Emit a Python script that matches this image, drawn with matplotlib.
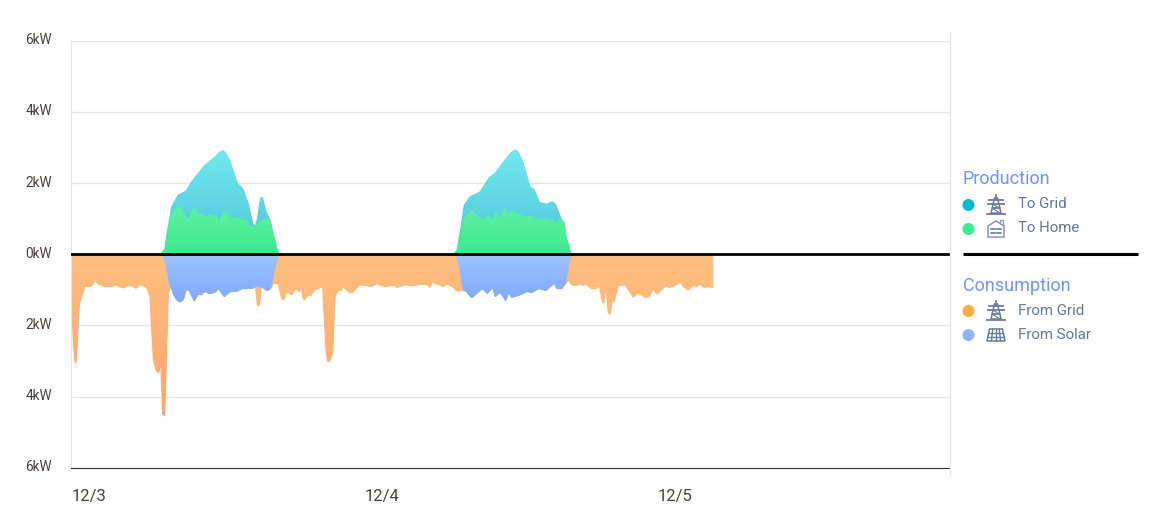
import numpy as np
import matplotlib
matplotlib.use('Agg')
import matplotlib.pyplot as plt
from matplotlib.collections import LineCollection
from matplotlib.colors import LinearSegmentedColormap
from matplotlib.patches import Circle, PathPatch, Polygon
from matplotlib.transforms import ScaledTranslation

plt.rcParams['font.family'] = ['Roboto', 'DejaVu Sans']

# --- data: hours since 12/3 00:00, kW ---
total_prod_h = [7.37, 7.7, 7.89, 8.25, 8.79, 9.42, 10.02, 10.98, 11.66, 12.21, 12.45, 12.68, 13.03, 13.63, 14.06,
                14.53, 14.88, 15.07, 15.26, 15.54, 15.67, 15.97, 16.3, 16.58, 16.85, 17.01,
                31.38, 31.65, 31.92, 32.22, 32.69, 33.51, 34.27, 34.74, 35.42, 36.1, 36.4, 36.65, 37.0, 37.6,
                37.93, 38.37, 38.97, 39.38, 39.65, 40.2, 40.55, 40.96]
total_prod_kw = [0, 0.13, 0.58, 1.33, 1.66, 1.77, 2.10, 2.50, 2.69, 2.87, 2.91, 2.84, 2.60, 1.99, 1.84,
                 1.42, 0.86, 0.75, 0.96, 1.59, 1.59, 1.19, 0.96, 0.53, 0.16, 0,
                 0, 0.11, 0.67, 1.38, 1.61, 1.75, 2.15, 2.27, 2.59, 2.87, 2.93, 2.86, 2.60, 1.89,
                 1.82, 1.45, 1.40, 1.47, 1.42, 0.96, 0.49, 0]

to_home_h = [7.37, 7.7, 7.89, 8.11, 8.52, 8.85, 9.15, 9.42, 9.69, 10.08, 10.43, 10.7, 11.11, 11.33, 11.93,
             12.12, 12.56, 13.03, 13.63, 14.06, 14.45, 14.61, 15.02, 15.21, 16.17, 16.58, 16.85, 17.01,
             31.38, 31.65, 31.92, 32.2, 32.55, 32.82, 33.23, 33.78, 34.11, 34.54, 34.79, 35.06, 35.55,
             35.83, 36.02, 36.65, 37.33, 37.66, 38.34, 38.83, 39.19, 39.46, 39.65, 39.84, 40.12, 40.39,
             40.55, 40.96]
to_home_kw = [0, 0.13, 0.58, 0.96, 1.26, 1.33, 1.24, 0.98, 1.0, 1.31, 1.12, 1.12, 1.03, 1.11, 1.05,
              0.93, 1.19, 1.03, 1.03, 0.96, 0.96, 0.75, 0.79, 0.86, 1.02, 0.53, 0.16, 0,
              0, 0.11, 0.67, 1.0, 1.10, 1.21, 1.07, 0.95, 1.08, 0.93, 1.19, 0.96, 1.28,
              1.03, 1.19, 1.12, 1.03, 1.07, 0.96, 1.0, 0.93, 0.98, 0.81, 0.93, 0.96, 0.91,
              0.49, 0]

total_cons_h = [0, 0.19, 0.33, 0.44, 0.55, 0.68, 0.87, 1.15, 1.42, 1.69, 2.02, 2.24, 2.79, 3.33, 3.74, 4.29,
                4.7, 5.05, 5.32, 5.65, 5.93, 6.25, 6.47, 6.75, 7.02, 7.21, 7.37, 7.51, 7.67, 7.84, 7.97,
                8.16, 8.38, 8.66, 8.93, 9.2, 9.42, 9.69, 10.1, 10.43, 10.7, 11.06, 11.33, 11.8, 12.07,
                12.56, 13.03, 13.57, 14.12, 14.45, 14.61, 14.86, 15.07, 15.26, 15.43, 15.59, 16.08, 16.36,
                16.58, 16.99, 17.26, 17.45, 17.67, 18.08, 18.43, 18.7, 18.81, 19.03, 19.17, 19.44, 19.66,
                19.99, 20.62, 20.89, 21.03, 21.16, 21.43, 21.63, 21.9, 22.12, 22.31, 22.72, 23.13, 23.62,
                24.36, 24.55, 25.04, 25.72, 26.4, 26.73, 27.36, 28.04, 28.59, 29.13, 29.41, 29.63, 29.82,
                30.23, 30.45, 30.77, 31.18, 31.59, 32.19, 32.41, 32.82, 33.23, 33.64, 33.83, 34.1, 34.54,
                34.76, 35.01, 35.2, 35.61, 35.85, 36.1, 36.78, 37.38, 37.74, 38.29, 38.91, 39.19, 39.6,
                39.79, 40.2, 40.56, 40.74, 41.02, 41.43, 41.7, 41.97, 42.16, 42.52, 43.06, 43.28, 43.56,
                43.67, 43.8, 44.02, 44.16, 44.38, 44.48, 44.84, 45.39, 46.07, 46.4, 47.02, 47.38, 47.65,
                48.03, 48.66, 49.07, 49.48, 49.95, 50.16, 50.57, 50.98, 51.26, 51.53, 51.8, 52.35, 52.6]
total_cons_kw = [1.1, 2.4, 3.04, 3.01, 2.22, 1.42, 1.19, 0.89, 0.91, 0.89, 0.74, 0.84, 0.91, 0.90, 0.87, 0.95,
                 0.87, 0.89, 0.96, 0.86, 0.88, 0.96, 1.19, 2.97, 3.30, 3.30, 3.06, 4.51, 4.51, 2.69, 1.10,
                 0.91, 1.10, 1.28, 1.34, 1.28, 1.0, 1.02, 1.31, 1.11, 1.11, 1.04, 1.11, 1.07, 0.96,
                 1.19, 1.05, 1.04, 0.95, 0.95, 0.79, 0.91, 0.70, 1.42, 1.42, 0.91, 1.02, 0.96,
                 0.81, 0.81, 1.26, 1.26, 1.05, 1.14, 0.96, 1.05, 0.86, 1.26, 1.26, 1.14, 1.14,
                 1.0, 0.91, 2.69, 3.01, 3.01, 2.78, 1.19, 1.0, 1.02, 0.91, 1.05, 1.05, 0.86,
                 0.88, 0.91, 0.83, 0.91, 0.87, 0.93, 0.86, 0.89, 0.84, 0.85, 0.93, 0.77, 0.83,
                 0.86, 0.91, 0.84, 0.89, 1.03, 1.02, 1.05, 1.22, 1.10, 0.98, 1.0, 1.10, 0.93,
                 1.19, 1.10, 1.08, 1.30, 1.07, 1.21, 1.14, 1.04, 1.08, 0.96, 1.02, 0.93, 0.81,
                 0.96, 0.96, 0.81, 0.72, 0.86, 0.88, 0.83, 0.88, 0.83, 0.94, 0.94, 0.86, 1.36,
                 1.36, 0.86, 1.66, 1.68, 1.19, 1.33, 0.88, 0.86, 1.21, 1.08, 1.21, 1.19, 0.98,
                 1.12, 0.89, 0.93, 0.88, 0.78, 0.91, 1.0, 0.86, 0.91, 0.84, 0.93, 0.91, 0.91]

from_solar_h = [7.56, 7.84, 8.06, 8.38, 8.66, 8.93, 9.2, 9.42, 9.69, 10.1, 10.43, 10.7, 11.06, 11.33, 11.8, 12.07,
                12.56, 13.03, 13.57, 14.12, 14.45, 14.86, 15.2, 15.59, 16.08, 16.36, 16.58, 16.99,
                31.59, 31.87, 32.14, 32.41, 32.82, 33.23, 33.64, 33.83, 34.1, 34.54, 34.76, 35.01, 35.2,
                35.61, 35.85, 36.1, 36.78, 37.38, 37.74, 38.29, 38.91, 39.19, 39.6, 39.79, 40.2, 40.56,
                40.74, 40.96]
from_solar_kw = [0, 0.35, 0.81, 1.10, 1.28, 1.34, 1.28, 1.0, 1.02, 1.31, 1.11, 1.11, 1.04, 1.11, 1.07, 0.96,
                 1.19, 1.05, 1.04, 0.95, 0.95, 0.96, 0.89, 0.91, 1.02, 0.96, 0.53, 0,
                 0, 0.44, 1.0, 1.05, 1.22, 1.10, 0.98, 1.0, 1.10, 0.93, 1.19, 1.10, 1.08,
                 1.30, 1.07, 1.21, 1.14, 1.04, 1.08, 0.96, 1.02, 0.93, 0.81, 0.96, 0.96, 0.77,
                 0.35, 0]

y_ticks = [-6, -4, -2, 0, 2, 4, 6]
y_labels = ['6kW', '4kW', '2kW', '0kW', '2kW', '4kW', '6kW']
x_ticks = [0, 24, 48]
x_labels = ['12/3', '12/4', '12/5']


def grad_fill(ax, x, y, c_near, c_far, zorder):
    # vertical gradient clipped to the area under the series
    poly = ax.fill_between(x, 0, y, facecolor=c_near, edgecolor='none', zorder=zorder)
    cmap = LinearSegmentedColormap.from_list('g', [c_near, c_far])
    far = max(y, key=abs)
    img = ax.imshow(np.linspace(0, 1, 100).reshape(-1, 1), cmap=cmap, aspect='auto', origin='lower',
                    extent=[0, 72, 0, far], zorder=zorder + 0.1)
    img.set_clip_path(PathPatch(poly.get_paths()[0], transform=ax.transData))
    # thin outline in the same gradient, smooths the clip edge
    pts = np.column_stack([x, y])
    segs = np.stack([pts[:-1], pts[1:]], axis=1)
    keep = np.diff(x) < 5
    lc = LineCollection(segs[keep], cmap=cmap, linewidths=0.9, zorder=zorder + 0.2)
    lc.set_array(((pts[:-1, 1] + pts[1:, 1]) / 2 / far)[keep])
    lc.set_clim(0, 1)
    ax.add_collection(lc)


fig = plt.figure(figsize=(11.55, 5.26), dpi=100)
ax = fig.add_axes([71 / 1155, 1 - 467.7 / 526, 879 / 1155, 427 / 526])

grad_fill(ax, total_prod_h, total_prod_kw, '#4fc4d8', '#72e8f0', 2)
grad_fill(ax, to_home_h, to_home_kw, '#3ee890', '#5df2a2', 3)
grad_fill(ax, total_cons_h, [-v for v in total_cons_kw], '#fdc080', '#ffa46b', 2)
grad_fill(ax, from_solar_h, [-v for v in from_solar_kw], '#9dc4ff', '#7fa8fb', 3)

ax.axhline(0, color='black', linewidth=2, zorder=5)
ax.set_xlim(0, 72)
ax.set_ylim(-6, 6)
ax.set_yticks(y_ticks)
ax.set_yticklabels(y_labels, fontsize=9.8, color='#4a3f3f', va='center')
ax.set_xticks(x_ticks)
ax.set_xticklabels(x_labels, fontsize=12, color='#4a3f3f', ha='left')
ax.tick_params(axis='y', length=0, pad=13.5)
ax.tick_params(axis='x', length=0, pad=15)
ax.grid(axis='y', color='#e6e6e6', linewidth=1, zorder=0)
ax.set_axisbelow(True)
for s in ['top', 'right']:
    ax.spines[s].set_visible(False)
ax.spines['left'].set_color('#e6e6e6')
ax.spines['bottom'].set_color('#333333')

# small nudge so the tick labels sit where the reference has them
for lab in ax.get_yticklabels():
    lab.set_transform(lab.get_transform() + ScaledTranslation(0, 0.5 / 100, fig.dpi_scale_trans))
for lab in ax.get_xticklabels():
    lab.set_transform(lab.get_transform() + ScaledTranslation(0.8 / 100, 0, fig.dpi_scale_trans))

# --- legend drawn in pixel coordinates ---
ov = fig.add_axes([0, 0, 1, 1])
ov.set_xlim(0, 1155)
ov.set_ylim(526, 0)
ov.axis('off')
ov.patch.set_alpha(0)
ov.plot([950, 950], [32, 475], color='#e6e6e6', linewidth=1)
ov.plot([963, 1138], [254, 254], color='black', linewidth=2.2, solid_capstyle='butt')

icon_col = '#6b7a99'


def pylon(cx, cy):
    ov.plot([cx, cx], [cy - 10, cy - 6], color=icon_col, lw=1.2)
    ov.add_patch(Polygon([[cx - 5, cy + 8], [cx - 1.5, cy - 7], [cx + 1.5, cy - 7], [cx + 5, cy + 8]],
                         closed=True, fill=False, edgecolor=icon_col, lw=1.1))
    ov.plot([cx - 7, cx + 7], [cy - 5, cy - 5], color=icon_col, lw=1.3)
    ov.plot([cx - 8, cx + 8], [cy - 1, cy - 1], color=icon_col, lw=1.3)
    ov.plot([cx - 3.5, cx + 3.5], [cy + 3, cy + 3], color=icon_col, lw=1.1)
    ov.plot([cx - 9, cx + 9], [cy + 8.5, cy + 8.5], color=icon_col, lw=1.3)
    ov.plot([cx - 3, cx + 3, cx - 4, cx + 4], [cy - 1, cy + 3, cy + 3, cy + 8], color=icon_col, lw=0.8)


def house(cx, cy):
    ov.add_patch(Polygon([[cx - 8, cy + 8], [cx - 8, cy - 3], [cx, cy - 8], [cx + 8, cy - 3], [cx + 8, cy + 8]],
                         closed=True, fill=False, edgecolor='#8a96b0', lw=1.1))
    ov.plot([cx + 4, cx + 4, cx + 6.5, cx + 6.5], [cy - 6, cy - 9, cy - 9, cy - 4], color='#8a96b0', lw=0.9)
    for dx in (-3, 3):
        for dy in (0, 4):
            ov.plot([cx + dx - 2, cx + dx + 2], [cy + dy, cy + dy], color=icon_col, lw=1.2)


def panel(cx, cy):
    ov.add_patch(Polygon([[cx - 9, cy + 6], [cx - 6.5, cy - 6], [cx + 6.5, cy - 6], [cx + 9, cy + 6]],
                         closed=True, fill=False, edgecolor=icon_col, lw=1.1))
    for t in (-0.5, 0, 0.5):
        ov.plot([cx + t * 6.5, cx + t * 9], [cy - 6, cy + 6], color=icon_col, lw=1)
    for dy, w in ((-2, 7.3), (2, 8.2)):
        ov.plot([cx - w, cx + w], [cy + dy, cy + dy], color=icon_col, lw=1)


title_col = '#6f95ff'
text_col = '#66759a'
ov.text(963, 179, 'Production', fontsize=13, color=title_col, va='center')
ov.text(963, 286, 'Consumption', fontsize=13, color=title_col, va='center')

legend_rows = [(205, 204, 'To Grid', '#00bccf', pylon), (229, 228, 'To Home', '#41e898', house),
               (311, 311, 'From Grid', '#ffb03f', pylon), (335, 335, 'From Solar', '#90b4ff', panel)]
for y, text_y, label, col, icon in legend_rows:
    ov.add_patch(Circle((968.5, y), 6, facecolor=col, edgecolor='none'))
    icon(996, y)
    ov.text(1018, text_y, label, fontsize=10.8, color=text_col, va='center')

plt.savefig('out.png', dpi=100)
